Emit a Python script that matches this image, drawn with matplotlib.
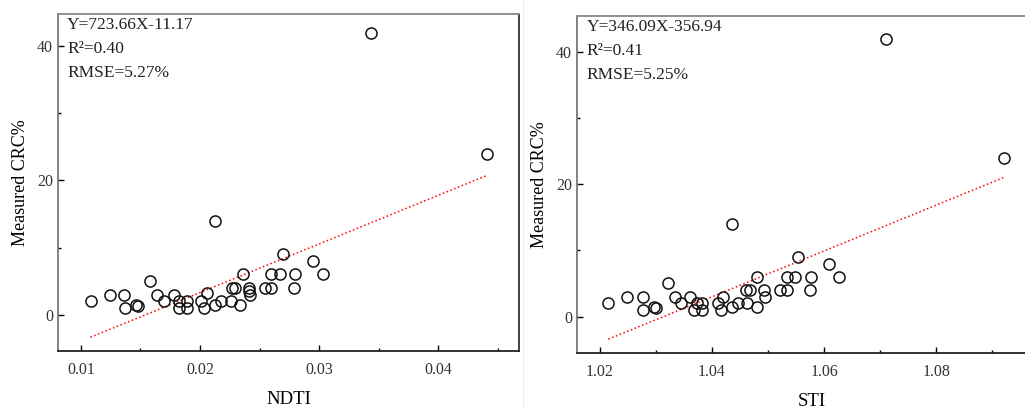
import matplotlib
matplotlib.use("Agg")
import matplotlib.pyplot as plt
from matplotlib.lines import Line2D
from matplotlib.ticker import MultipleLocator
import numpy as np

plt.rcParams['font.family'] = ['Liberation Serif', 'DejaVu Serif']

# measured CRC vs NDTI (left panel)
ndti_x = [0.0108, 0.0124, 0.0136, 0.0137, 0.0146, 0.0148, 0.0158, 0.0164, 0.0170,
          0.0178, 0.0182, 0.0182, 0.0189, 0.0189, 0.0201, 0.0203, 0.0206, 0.0213,
          0.0218, 0.0226, 0.0227, 0.0229, 0.0234, 0.0236, 0.0241, 0.0242, 0.0241,
          0.0255, 0.0260, 0.0260, 0.0267, 0.0280, 0.0279, 0.0270, 0.0295, 0.0303,
          0.0213, 0.0344, 0.0441]
ndti_y = [2, 3, 3, 1, 1.5, 1.3, 5, 3, 2,
          3, 1, 2, 2, 1, 2, 1, 3.2, 1.5,
          2, 2, 4, 4, 1.5, 6, 4, 3, 3.5,
          4, 4, 6, 6, 6, 4, 9, 8, 6,
          14, 42, 24]

# measured CRC vs STI (right panel)
sti_x = [1.0215, 1.0249, 1.0276, 1.0277, 1.0297, 1.0300, 1.0322, 1.0334, 1.0345,
         1.0361, 1.0367, 1.0373, 1.0383, 1.0382, 1.0411, 1.0416, 1.0420, 1.0435,
         1.0446, 1.0462, 1.0460, 1.0468, 1.0480, 1.0480, 1.0492, 1.0495, 1.0521,
         1.0533, 1.0533, 1.0548, 1.0577, 1.0575, 1.0554, 1.0608, 1.0627, 1.0435,
         1.0711, 1.0921]
sti_y = [2, 3, 3, 1, 1.5, 1.3, 5, 3, 2,
         3, 1, 2, 2, 1, 2, 1, 3, 1.5,
         2, 2, 4, 4, 1.5, 6, 4, 3, 4,
         4, 6, 6, 6, 4, 9, 8, 6, 14,
         42, 24]

fits = [(723.66, -11.17), (346.09, -356.94)]
stats_text = [["Y=723.66X-11.17", "R\u00b2=0.40", "RMSE=5.27%"],
              ["Y=346.09X-356.94", "R\u00b2=0.41", "RMSE=5.25%"]]
x_names = ["NDTI", "STI"]

fig = plt.figure(figsize=(10.25, 4.08), dpi=100)
ax1 = fig.add_axes([0.0566, 0.1397, 0.4497, 0.826])
ax2 = fig.add_axes([0.5629, 0.1348, 0.4576, 0.826])

panels = [
    (ax1, ndti_x, ndti_y, (0.00807, 0.0468), (-5.4, 44.8), 0.01, 0.005),
    (ax2, sti_x, sti_y, (1.0159, 1.0996), (-5.5, 45.4), 0.02, 0.01),
]

for i, (ax, xs, ys, xlim, ylim, xmaj, xmin) in enumerate(panels):
    xs = np.array(xs)
    ys = np.array(ys)
    ax.plot(xs, ys, 'o', mfc='none', mec='#111111', mew=1.1, ms=8, zorder=3)

    # regression line over the data range
    k, b = fits[i]
    xl = np.array([xs.min(), xs.max()])
    ax.plot(xl, k * xl + b, color='red', ls=':', lw=1.1, zorder=2)

    ax.set_xlim(*xlim)
    ax.set_ylim(*ylim)
    ax.xaxis.set_major_locator(MultipleLocator(xmaj))
    ax.xaxis.set_minor_locator(MultipleLocator(xmin))
    ax.yaxis.set_major_locator(MultipleLocator(20))
    ax.yaxis.set_minor_locator(MultipleLocator(10))
    ax.xaxis.set_major_formatter(plt.FuncFormatter(lambda v, p: f"{v:.2f}"))
    ax.tick_params(which='both', direction='in', labelsize=11.5, labelcolor='#333333')
    ax.tick_params(which='major', length=4, width=1)
    ax.tick_params(which='minor', length=2, width=1)
    ax.tick_params(axis='x', pad=8)

    ax.spines['left'].set_color('#777777')
    ax.spines['top'].set_color('#888888')
    ax.spines['bottom'].set_color('#222222')
    ax.spines['right'].set_color('#333333')
    for s in ax.spines.values():
        s.set_linewidth(1.3)

    ax.set_xlabel(x_names[i], fontsize=13.5, labelpad=9)
    ax.set_ylabel("Measured CRC%", fontsize=13, labelpad=6)

    for j, t in enumerate(stats_text[i]):
        ax.text(0.02, 0.967 - j * 0.0715, t, transform=ax.transAxes,
                fontsize=12.5, color='#222222', va='center', ha='left')

# faint separator between the two panels
fig.add_artist(Line2D([0.5105, 0.5105], [0.0, 1.0], color='#eeeeee', lw=1))

fig.savefig("out.png", dpi=100)
